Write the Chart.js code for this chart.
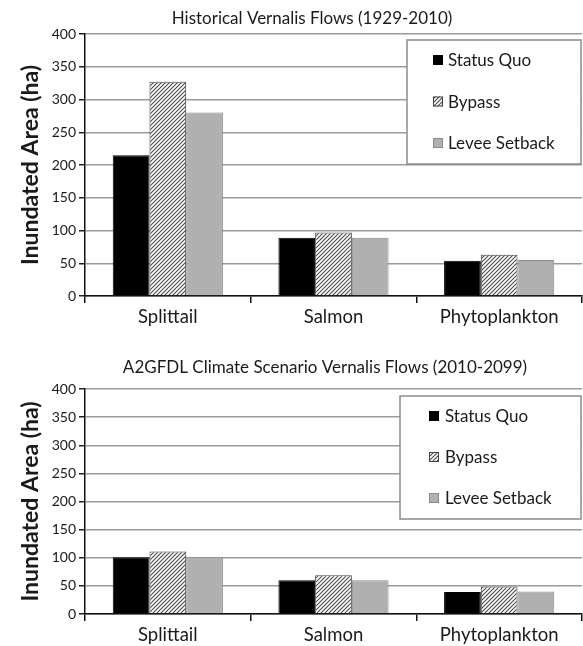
<!DOCTYPE html>
<html>
<head>
<meta charset="utf-8">
<script src="https://cdn.jsdelivr.net/npm/chart.js@4.4.0/dist/chart.umd.min.js"></script>
<style>
  body { margin: 0; background: #fff; }
  .panel { position: relative; width: 583px; }
  #topPanel { height: 330px; }
  #bottomPanel { height: 316px; }
</style>
</head>
<body>
<div class="panel" id="topPanel"><canvas id="historicalChart"></canvas></div>
<div class="panel" id="bottomPanel"><canvas id="climateChart"></canvas></div>
<script>
// chart data
const categories = ['Splittail', 'Salmon', 'Phytoplankton'];
const seriesNames = ['Status Quo', 'Bypass', 'Levee Setback'];

const historicalStatusQuo = [215, 89, 54];
const historicalBypass = [327, 97, 63];
const historicalLevee = [280, 89, 55];

const climateStatusQuo = [101, 60, 39];
const climateBypass = [111, 69, 49];
const climateLevee = [101, 60, 40];

const yMin = 0;
const yMax = 400;
const yStep = 50;

const FONT = 'Lato';

// diagonal hatch for the Bypass bars
function makeHatch() {
    const c = document.createElement('canvas');
    c.width = 4;
    c.height = 4;
    const g = c.getContext('2d');
    g.fillStyle = '#ffffff';
    g.fillRect(0, 0, 4, 4);
    g.strokeStyle = '#4a4a4a';
    g.lineWidth = 1.1;
    g.beginPath();
    g.moveTo(-1, 5); g.lineTo(5, -1);
    g.moveTo(-1, 1); g.lineTo(1, -1);
    g.moveTo(3, 5); g.lineTo(5, 3);
    g.stroke();
    return g.createPattern(c, 'repeat');
}
const hatch = makeHatch();

// title + framed legend drawn inside the plot
const panelDecor = {
    id: 'panelDecor',
    afterDraw(chart, args, opts) {
        const ctx = chart.ctx;
        ctx.save();
        ctx.font = '17px ' + FONT;
        ctx.fillStyle = '#1a1a1a';
        ctx.textAlign = 'center';
        ctx.textBaseline = 'middle';
        ctx.fillText(opts.title, opts.titleX, opts.titleY);

        const b = opts.box;
        ctx.fillStyle = '#fff';
        ctx.fillRect(b.x, b.y, b.w, b.h);
        ctx.strokeStyle = '#8a8a8a';
        ctx.lineWidth = 1.5;
        ctx.strokeRect(b.x, b.y, b.w, b.h);

        ctx.textAlign = 'left';
        ctx.font = '17px ' + FONT;
        chart.data.datasets.forEach((ds, i) => {
            const y = b.y + opts.firstRow + i * opts.rowGap;
            ctx.fillStyle = ds.backgroundColor;
            ctx.fillRect(b.x + opts.swatchX, y - 5, 10, 10);
            ctx.strokeStyle = ds.borderColor;
            ctx.lineWidth = 1;
            ctx.strokeRect(b.x + opts.swatchX + 0.5, y - 4.5, 9, 9);
            ctx.fillStyle = '#1a1a1a';
            ctx.fillText(ds.label, b.x + opts.textX, y + 1);
        });
        ctx.restore();
    }
};

function buildDatasets(statusQuo, bypass, levee) {
    return [
        { label: seriesNames[0], data: statusQuo, backgroundColor: '#000000', borderColor: '#000000', borderWidth: 1 },
        { label: seriesNames[1], data: bypass, backgroundColor: hatch, borderColor: '#444444', borderWidth: 1 },
        { label: seriesNames[2], data: levee, backgroundColor: '#b0b0b0', borderColor: '#8c8c8c', borderWidth: 1 }
    ];
}

function createChart(canvasId, datasets, decor, padTop, xHeight) {
    const ctx = document.getElementById(canvasId).getContext('2d');
    return new Chart(ctx, {
        type: 'bar',
        data: { labels: categories, datasets: datasets },
        plugins: [panelDecor],
        options: {
            responsive: true,
            maintainAspectRatio: false,
            animation: false,
            layout: { padding: { top: padTop, right: 1, left: 0, bottom: 0 } },
            datasets: { bar: { categoryPercentage: 0.665, barPercentage: 1.0 } },
            plugins: {
                legend: { display: false },
                tooltip: { enabled: false },
                panelDecor: decor
            },
            scales: {
                x: {
                    grid: { offset: true, drawOnChartArea: false, drawTicks: true, tickLength: 7, color: '#111', lineWidth: 1.5 },
                    border: { display: true, color: '#111', width: 1.5 },
                    ticks: { color: '#1a1a1a', font: { family: FONT, size: 18.5 }, padding: 3 },
                    afterFit(scale) { scale.height = xHeight; }
                },
                y: {
                    min: yMin,
                    max: yMax,
                    ticks: { stepSize: yStep, color: '#1a1a1a', font: { family: FONT, size: 14 }, padding: 3 },
                    grid: { color: '#9a9a9a', lineWidth: 1.5, tickLength: 6, tickColor: '#222' },
                    border: { display: true, color: '#111', width: 1.5 },
                    title: {
                        display: true,
                        text: 'Inundated Area (ha)',
                        color: '#1a1a1a',
                        font: { family: FONT, size: 23, weight: 'bold' },
                        padding: { top: 17, bottom: 0 }
                    },
                    afterFit(scale) { scale.width = 85; }
                }
            }
        }
    });
}

createChart('historicalChart',
    buildDatasets(historicalStatusQuo, historicalBypass, historicalLevee),
    {
        title: 'Historical Vernalis Flows (1929-2010)', titleX: 312, titleY: 19,
        box: { x: 407, y: 40, w: 174, h: 124 },
        swatchX: 26, textX: 41, firstRow: 20, rowGap: 41.5
    },
    34, 34);

createChart('climateChart',
    buildDatasets(climateStatusQuo, climateBypass, climateLevee),
    {
        title: 'A2GFDL Climate Scenario Vernalis Flows (2010-2099)', titleX: 325, titleY: 38,
        box: { x: 400, y: 66, w: 181, h: 123 },
        swatchX: 29, textX: 45, firstRow: 20, rowGap: 41
    },
    59, 32);
</script>
</body>
</html>
